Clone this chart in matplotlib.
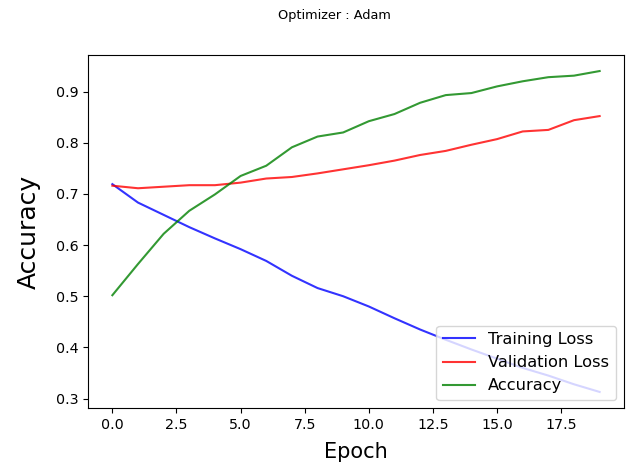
import matplotlib
matplotlib.use('Agg')
import matplotlib.pyplot as plt

epochs = list(range(20))
training_loss = [0.719, 0.683, 0.659, 0.635, 0.613, 0.592, 0.569, 0.540, 0.516, 0.500,
                 0.480, 0.457, 0.435, 0.415, 0.396, 0.378, 0.360, 0.345, 0.328, 0.313]
validation_loss = [0.716, 0.711, 0.714, 0.717, 0.717, 0.722, 0.730, 0.733, 0.740, 0.748,
                   0.756, 0.765, 0.776, 0.784, 0.796, 0.807, 0.822, 0.825, 0.844, 0.852]
accuracy = [0.502, 0.563, 0.622, 0.667, 0.699, 0.735, 0.755, 0.791, 0.812, 0.820,
            0.842, 0.856, 0.878, 0.893, 0.897, 0.910, 0.920, 0.928, 0.931, 0.940]

fig = plt.figure(figsize=(6.27, 4.66), dpi=100)
ax = fig.add_axes([88 / 627, 1 - 408 / 466, (624 - 88) / 627, (408 - 55) / 466])

ax.plot(epochs, training_loss, color='blue', alpha=0.8, label='Training Loss')
ax.plot(epochs, validation_loss, color='red', alpha=0.8, label='Validation Loss')
ax.plot(epochs, accuracy, color='green', alpha=0.8, label='Accuracy')

fig.suptitle('Optimizer : Adam', fontsize=9.3, x=334 / 627, y=1 - 15 / 466, va='center')
ax.set_xlabel('Epoch', fontsize=15, labelpad=7.5)
ax.set_ylabel('Accuracy', fontsize=18, labelpad=10.5)
ax.tick_params(labelsize=10.3)
ax.legend(loc='lower right', fontsize=11.7)

fig.savefig('out.png', dpi=100)
